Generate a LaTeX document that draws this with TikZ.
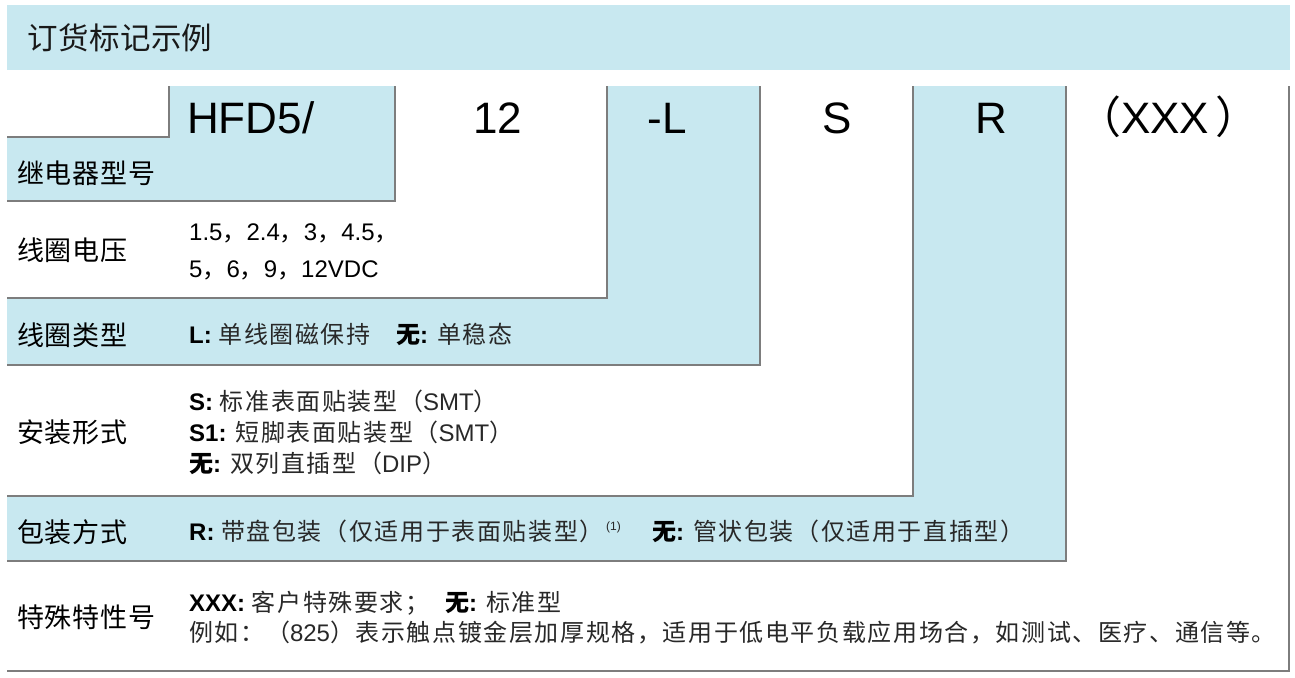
\documentclass[tikz,border=0pt]{standalone}
\usepackage{fontspec}
\setmainfont{Liberation Sans}
\newfontfamily\cjk[LetterSpace=6.7]{Noto Sans CJK SC}
\newfontfamily\cjklab[LetterSpace=3]{Noto Sans CJK SC}
\newfontfamily\cjkhead[LetterSpace=1.5]{Noto Sans CJK SC}
\newfontfamily\cjkplain{Noto Sans CJK SC}
\definecolor{boxblue}{RGB}{200,232,240}
\definecolor{edgegray}{RGB}{125,125,125}
\definecolor{txtgray}{RGB}{40,40,40}
\newcommand\zh[1]{{\cjk #1}}
\begin{document}
\begin{tikzpicture}[x=1pt,y=-1pt,
  bluefill/.style={fill=boxblue,draw=none},
  edgeline/.style={draw=edgegray,line width=1.5pt},
  lab/.style={anchor=base west,inner sep=0pt,font=\cjklab\fontsize{27}{31}\selectfont,text=black},
  txt/.style={anchor=base west,inner sep=0pt,font=\fontsize{24}{28}\selectfont,text=txtgray},
  codetxt/.style={anchor=base,inner sep=0pt,font=\fontsize{44}{50}\selectfont,text=black}]
\useasboundingbox (0,0) rectangle (1295,677);
% header band
\fill[boxblue] (7,5) rectangle (1290,70);
\node[anchor=base west,inner sep=0pt,font=\cjkhead\fontsize{30.5}{35}\selectfont,text=black!90] (head) at (27,49) {订货标记示例};
% row fills (blue rows)
\path[bluefill] (7,137) -- (169,137) -- (169,86) -- (395,86) -- (395,201) -- (7,201) -- cycle;
\path[bluefill] (7,298) -- (607,298) -- (607,86) -- (760,86) -- (760,365) -- (7,365) -- cycle;
\path[bluefill] (7,496) -- (913,496) -- (913,86) -- (1066,86) -- (1066,561) -- (7,561) -- cycle;
% edges
\draw[edgeline] (7,137) -- (169,137) -- (169,86);
\draw[edgeline] (395,86) -- (395,201) -- (7,201);
\draw[edgeline] (607,86) -- (607,298) -- (7,298);
\draw[edgeline] (760,86) -- (760,365) -- (7,365);
\draw[edgeline] (913,86) -- (913,496) -- (7,496);
\draw[edgeline] (1066,86) -- (1066,561) -- (7,561);
\draw[edgeline] (1289,86) -- (1289,671) -- (7,671);
% code letters
\node[codetxt,anchor=base west] (cHFD) at (187,133) {HFD5/};
\node[codetxt] (c12) at (498,133) {12};
\node[codetxt] (cL) at (667,133) {-L};
\node[codetxt] (cS) at (837,133) {S};
\node[codetxt] (cR) at (991,133) {R};
\node[codetxt,anchor=base west] (cX) at (1077,133) {{\cjkplain （}XXX\hspace{6pt}{\cjkplain ）}};
% labels
\node[lab] (l1) at (17,183) {继电器型号};
\node[lab] (l2) at (17,260) {线圈电压};
\node[lab] (l3) at (17,345) {线圈类型};
\node[lab] (l4) at (17,442) {安装形式};
\node[lab] (l5) at (17,542) {包装方式};
\node[lab] (l6) at (17,627) {特殊特性号};
% contents
\node[txt,text=black] (t2a) at (189,240) {1.5\zh{，}2.4\zh{，}3\zh{，}4.5\zh{，}};
\node[txt,text=black] (t2b) at (189,277) {5\zh{，}6\zh{，}9\zh{，}12VDC};
\node[txt] (t3) at (189,343) {\textbf{\color{black}L:} \zh{单线圈磁保持}\hspace{24pt}\textbf{\color{black}\zh{无}:} \zh{单稳态}};
\node[txt] (t4a) at (189,410) {\textbf{\color{black}S:} \zh{标准表面贴装型（}SMT\zh{）}};
\node[txt] (t4b) at (189,441) {\textbf{\color{black}S1:} \zh{短脚表面贴装型（}SMT\zh{）}};
\node[txt] (t4c) at (189,472) {\textbf{\color{black}\zh{无}:} \zh{双列直插型（}DIP\zh{）}};
\node[txt] (t5a) at (189,540) {\textbf{\color{black}R:} \zh{带盘包装（仅适用于表面贴装型）}};
\node[anchor=base west,inner sep=0pt,font=\fontsize{12}{14}\selectfont,text=txtgray] (t5n) at (606,530) {(1)};
\node[txt] (t5b) at (652,540) {\textbf{\color{black}\zh{无}:} \zh{管状包装（仅适用于直插型）}};
\node[txt] (t6a) at (189,611) {\textbf{\color{black}XXX:} \zh{客户特殊要求；}\hspace{14pt}\textbf{\color{black}\zh{无}:} \zh{标准型}};
\node[txt] (t6b) at (189,641) {\zh{例如：（}825\zh{）表示触点镀金层加厚规格，适用于低电平负载应用场合，如测试、医疗、通信等。}};
\end{tikzpicture}
\end{document}
